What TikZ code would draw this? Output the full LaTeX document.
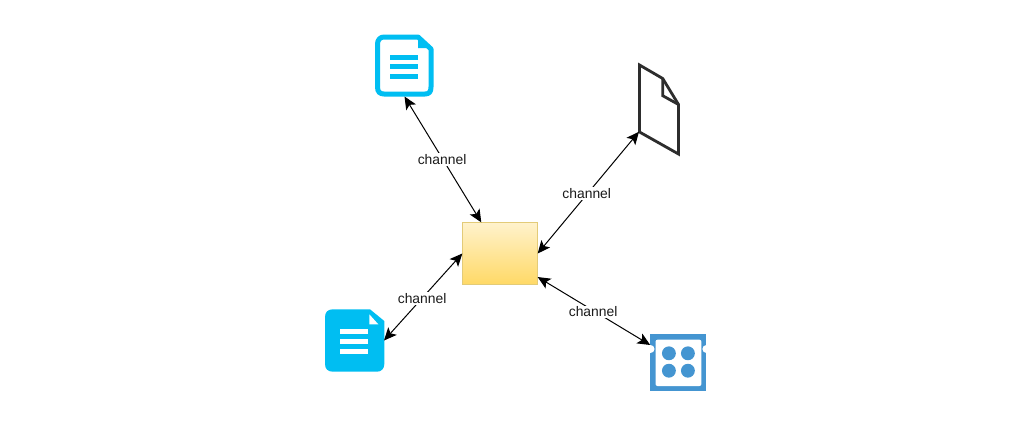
\documentclass[tikz,border=0pt]{standalone}
\usepackage{fontspec}
\setmainfont{Liberation Sans}
\usetikzlibrary{arrows.meta}
\definecolor{docblue}{HTML}{00BEF2}
\definecolor{blockblue}{HTML}{4495D1}
\definecolor{fileink}{HTML}{2D2D2D}
\definecolor{boxedge}{HTML}{E3CB78}
\definecolor{boxtop}{HTML}{FFF2CC}
\definecolor{boxbottom}{HTML}{FFD966}
\definecolor{labelink}{HTML}{1A1A1A}
\tikzset{
  x=0.75pt,y=-0.75pt,
  anchorbox/.style={inner sep=0pt,outer sep=0pt,minimum width=#1},
  channel/.style={line width=0.75pt,black,{Stealth[length=9.5pt,width=8.5pt,inset=2.2pt]}-{Stealth[length=9.5pt,width=8.5pt,inset=2.2pt]}},
  chlabel/.style={fill=white,inner sep=1pt,font=\fontsize{10.4pt}{12pt}\selectfont,text=labelink},
  docstroke/.style={draw=docblue,line width=3.75pt,line join=round},
  docline/.style={draw=docblue,line width=3.75pt},
  whiteline/.style={draw=white,line width=3.75pt},
  fileline/.style={draw=fileink,line width=2.1pt,line join=miter},
}
\begin{document}
\begin{tikzpicture}
\useasboundingbox[fill=white] (0,0) rectangle (1030,425);

% central box
\node[anchorbox=56.5pt,minimum height=46.75pt,draw=boxedge,line width=1pt,top color=boxtop,bottom color=boxbottom] (hub) at (500,253.5) {};

% outlined document
\node[anchorbox=43.5pt,minimum height=46.5pt] (docA) at (404.5,65.5) {};
\draw[docstroke] (384,37) -- (418,37) -- (431,49) -- (431,87) .. controls (431,92) and (429,94) .. (425,94) -- (384,94) .. controls (380,94) and (377.5,92) .. (377.5,87) -- (377.5,44) .. controls (377.5,40) and (380,37) .. (384,37) -- cycle;
\fill[docblue] (418,35) -- (433,48) -- (418,48) -- cycle;
\foreach \yy in {57,66.7,76.7} \draw[docline] (390,\yy) -- (417.7,\yy);

% sheet outline
\node[anchorbox=30pt,minimum height=66.75pt] (sheet) at (659,109.5) {};
\draw[fileline] (639.5,65) -- (662.7,78.5) -- (678.5,104.5) -- (678.5,154) -- (639.5,132) -- cycle;
\draw[fileline] (662.7,78.5) -- (662.7,95.7) -- (678.5,104.5);

% filled document
\node[anchorbox=44.25pt,minimum height=46.5pt] (docB) at (354.5,340.5) {};
\fill[docblue] (333,309.3) -- (370,309.3) -- (384.3,321) -- (384.3,364) .. controls (384.3,369) and (381,371.7) .. (377,371.7) -- (333,371.7) .. controls (328,371.7) and (325,369) .. (325,364) -- (325,317) .. controls (325,312) and (328,309.3) .. (333,309.3) -- cycle;
\fill[white] (369.3,314.3) -- (369.3,324.3) -- (378.3,324.3) -- cycle;
\foreach \yy in {331.7,341.7,351.7} \draw[whiteline] (340,\yy) -- (367.7,\yy);

% block
\node[anchorbox=42pt,minimum height=42.25pt] (block) at (678.2,362.5) {};
\fill[blockblue] (650.4,334.3) rectangle (706.4,390.7);
\fill[white,rounded corners=1.5pt] (655.5,339.7) rectangle (701.4,386);
\fill[white] (650.5,349) circle[radius=3pt];
\fill[white] (706.4,349) circle[radius=3pt];
\foreach \xx in {668.9,687.9} \foreach \yy in {353.3,370.7} \fill[blockblue] (\xx,\yy) circle[radius=5.2pt];

% connectors
\draw[channel] (hub.121) -- (docA.south) node[chlabel,midway,xshift=-0.6pt] {channel};
\draw[channel] (hub.0) -- (sheet.228) node[chlabel,midway,xshift=-1.2pt,yshift=-0.6pt] {channel};
\draw[channel] (hub.180) -- (docB.east) node[chlabel,midway,xshift=-0.8pt,yshift=-1.3pt] {channel};
\draw[channel] (hub.-32) -- (block.148) node[chlabel,midway,xshift=-0.6pt,yshift=-0.7pt] {channel};
\end{tikzpicture}
\end{document}
